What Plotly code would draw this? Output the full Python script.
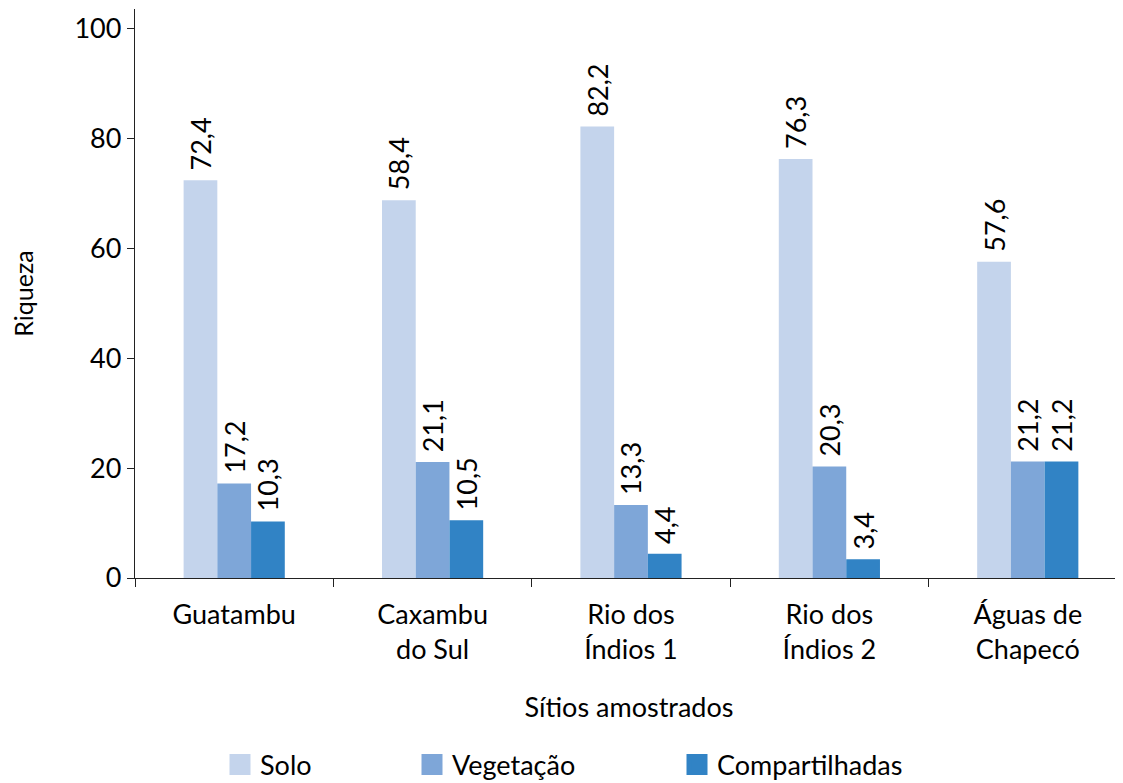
import plotly.graph_objects as go

# ---- data ----
sites = ["Guatambu", "Caxambu<br>do Sul", "Rio dos<br>Índios 1", "Rio dos<br>Índios 2", "Águas de<br>Chapecó"]
series_names = ["Solo", "Vegetação", "Compartilhadas"]
solo_values = [72.4, 68.8, 82.2, 76.3, 57.6]
veg_values = [17.2, 21.1, 13.3, 20.3, 21.2]
comp_values = [10.3, 10.5, 4.4, 3.4, 21.2]
solo_labels = ["72,4", "58,4", "82,2", "76,3", "57,6"]
veg_labels = ["17,2", "21,1", "13,3", "20,3", "21,2"]
comp_labels = ["10,3", "10,5", "4,4", "3,4", "21,2"]
y_ticks = [0, 20, 40, 60, 80, 100]

colors = ["#C4D4EC", "#7EA6D8", "#3183C5"]
FONT = "Lato"
FS = 27

fig = go.Figure()
series = [(solo_values, solo_labels), (veg_values, veg_labels), (comp_values, comp_labels)]
for (vals, labs), name, col in zip(series, series_names, colors):
    fig.add_trace(go.Bar(
        x=sites, y=vals, name=name, marker=dict(color=col, line=dict(width=0)),
        text=labs, texttemplate="\u00a0%{text}", textposition="outside", textangle=-90,
        constraintext="none",
        textfont=dict(family=FONT, size=FS, color="#000"), cliponaxis=False,
        showlegend=False, hoverinfo="skip",
    ))

# legend-only entries (one legend each, to reproduce the spacing)
legend_ids = ["legend", "legend2", "legend3"]
for name, col, lid in zip(series_names, colors, legend_ids):
    fig.add_trace(go.Scatter(
        x=[None], y=[None], mode="markers", name=name,
        marker=dict(symbol="square", size=16, color=col, line=dict(color=col, width=5)),
        showlegend=True, legend=lid, hoverinfo="skip",
    ))

# page body has an 8px margin; figure is sized to fill the rest of the window
OFF = 8
W, H = 1123 - OFF, 783 - OFF
L, R, T = 135 - OFF, 0, 9 - OFF
B = H - (578 - OFF)
pw = W - L - R
ph = H - T - B

def win_to_paper_x(px):
    return (px - OFF - L) / pw

def win_to_paper_y(py):
    return ((H - B) - (py - OFF)) / ph

leg_common = dict(orientation="h", xanchor="left", yanchor="middle",
                  font=dict(family=FONT, size=FS, color="#000"),
                  bgcolor="rgba(0,0,0,0)", borderwidth=0, itemwidth=30,
                  itemclick=False, itemdoubleclick=False)
leg_px = [220, 412, 677]
legends = {}
for lid, lx in zip(legend_ids, leg_px):
    legends[lid] = dict(leg_common, x=win_to_paper_x(lx), y=win_to_paper_y(765))

fig.update_layout(
    width=W, height=H,
    margin=dict(l=L, r=R, t=T, b=B, pad=0, autoexpand=False),
    paper_bgcolor="white", plot_bgcolor="white",
    barmode="group", bargap=0.49, bargroupgap=0,
    font=dict(family=FONT, size=FS, color="#000"),
    **legends,
)
fig.update_xaxes(
    range=[-0.5, 4.48], showline=True, linecolor="#222", linewidth=1.3,
    ticks="outside", tickson="boundaries", ticklen=8, tickcolor="#222", tickwidth=1.3,
    showgrid=False, zeroline=False, automargin=False, ticklabelstandoff=12,
    tickfont=dict(family=FONT, size=FS, color="#000"),
    title=dict(text="Sítios amostrados", font=dict(family=FONT, size=FS, color="#000"), standoff=34),
)
fig.update_yaxes(
    range=[0, 103.6], tickvals=y_ticks, showline=True, linecolor="#222", linewidth=1.3,
    ticks="outside", ticklen=7, tickcolor="#222", tickwidth=1.3,
    showgrid=False, zeroline=False, automargin=False, ticklabeloverflow="allow",
    tickfont=dict(family=FONT, size=FS, color="#000"),
    title=dict(text="Riqueza", font=dict(family=FONT, size=25, color="#000"), standoff=49),
)

fig.write_html("out.html")
